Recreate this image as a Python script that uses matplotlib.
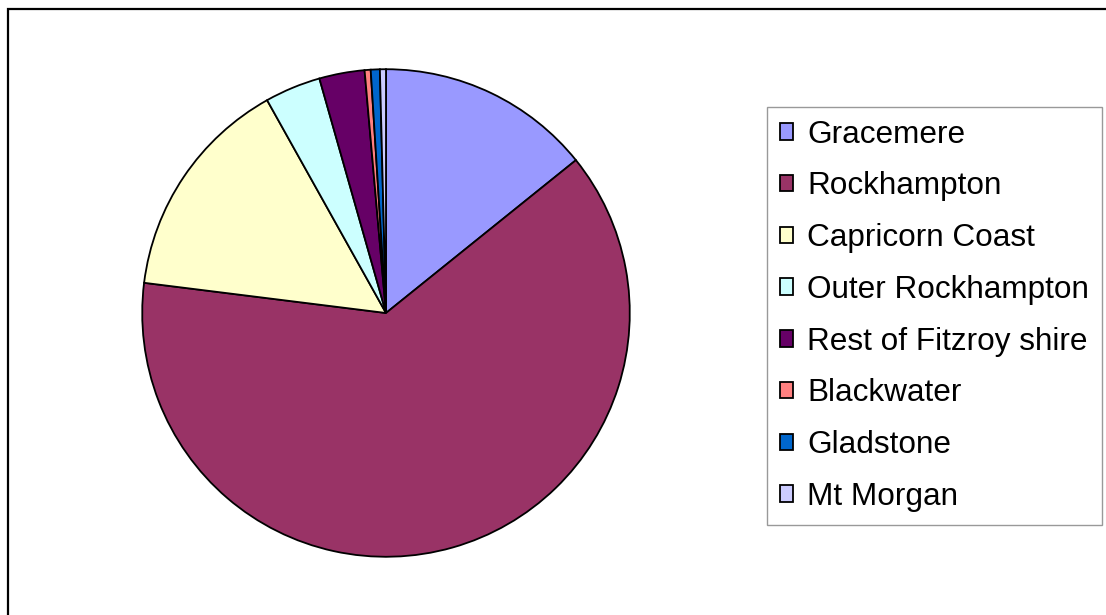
import matplotlib
matplotlib.use("Agg")
import matplotlib.pyplot as plt
from matplotlib.patches import Rectangle

plt.rcParams['font.family'] = ['Liberation Sans', 'DejaVu Sans']

# share of each area, percent
areas = ["Gracemere", "Rockhampton", "Capricorn Coast", "Outer Rockhampton",
         "Rest of Fitzroy shire", "Blackwater", "Gladstone", "Mt Morgan"]
shares = [14.2, 62.7, 14.9, 3.7, 3.0, 0.4, 0.6, 0.4]
colours = ["#9999FF", "#993366", "#FFFFCC", "#CCFFFF",
           "#660066", "#FF8080", "#0066CC", "#CCCCFF"]

W, H = 1106, 615
fig = plt.figure(figsize=(W / 100, H / 100), dpi=100)

# pie axes: square box of 490 px
ax = fig.add_axes([141 / W, 1 - 558 / H, 490 / W, 490 / H])
wedges, _ = ax.pie(shares, colors=colours, startangle=90, counterclock=False,
                   radius=1, wedgeprops=dict(edgecolor="black", linewidth=1.3))
ax.set_xlim(-1.005, 1.005)
ax.set_ylim(-1.005, 1.005)
ax.axis("off")

leg = fig.legend(wedges, areas, loc="upper left",
                 bbox_to_anchor=(767 / W, 1 - 107 / H),
                 fontsize=22.7, frameon=True, fancybox=False,
                 edgecolor="#808080", handlelength=0.42, handleheight=0.42,
                 handletextpad=0.45, labelspacing=0.69, borderpad=0.4,
                 borderaxespad=0)
leg.get_frame().set_linewidth(1.0)
for h in leg.legend_handles:
    h.set_linewidth(1.3)

# outer chart border
fig.patches.append(Rectangle((8 / W, -0.1), 1.2, 1.1 - 9 / H,
                             transform=fig.transFigure, fill=False,
                             edgecolor="black", linewidth=1.6))

fig.savefig("out.png", dpi=100)
